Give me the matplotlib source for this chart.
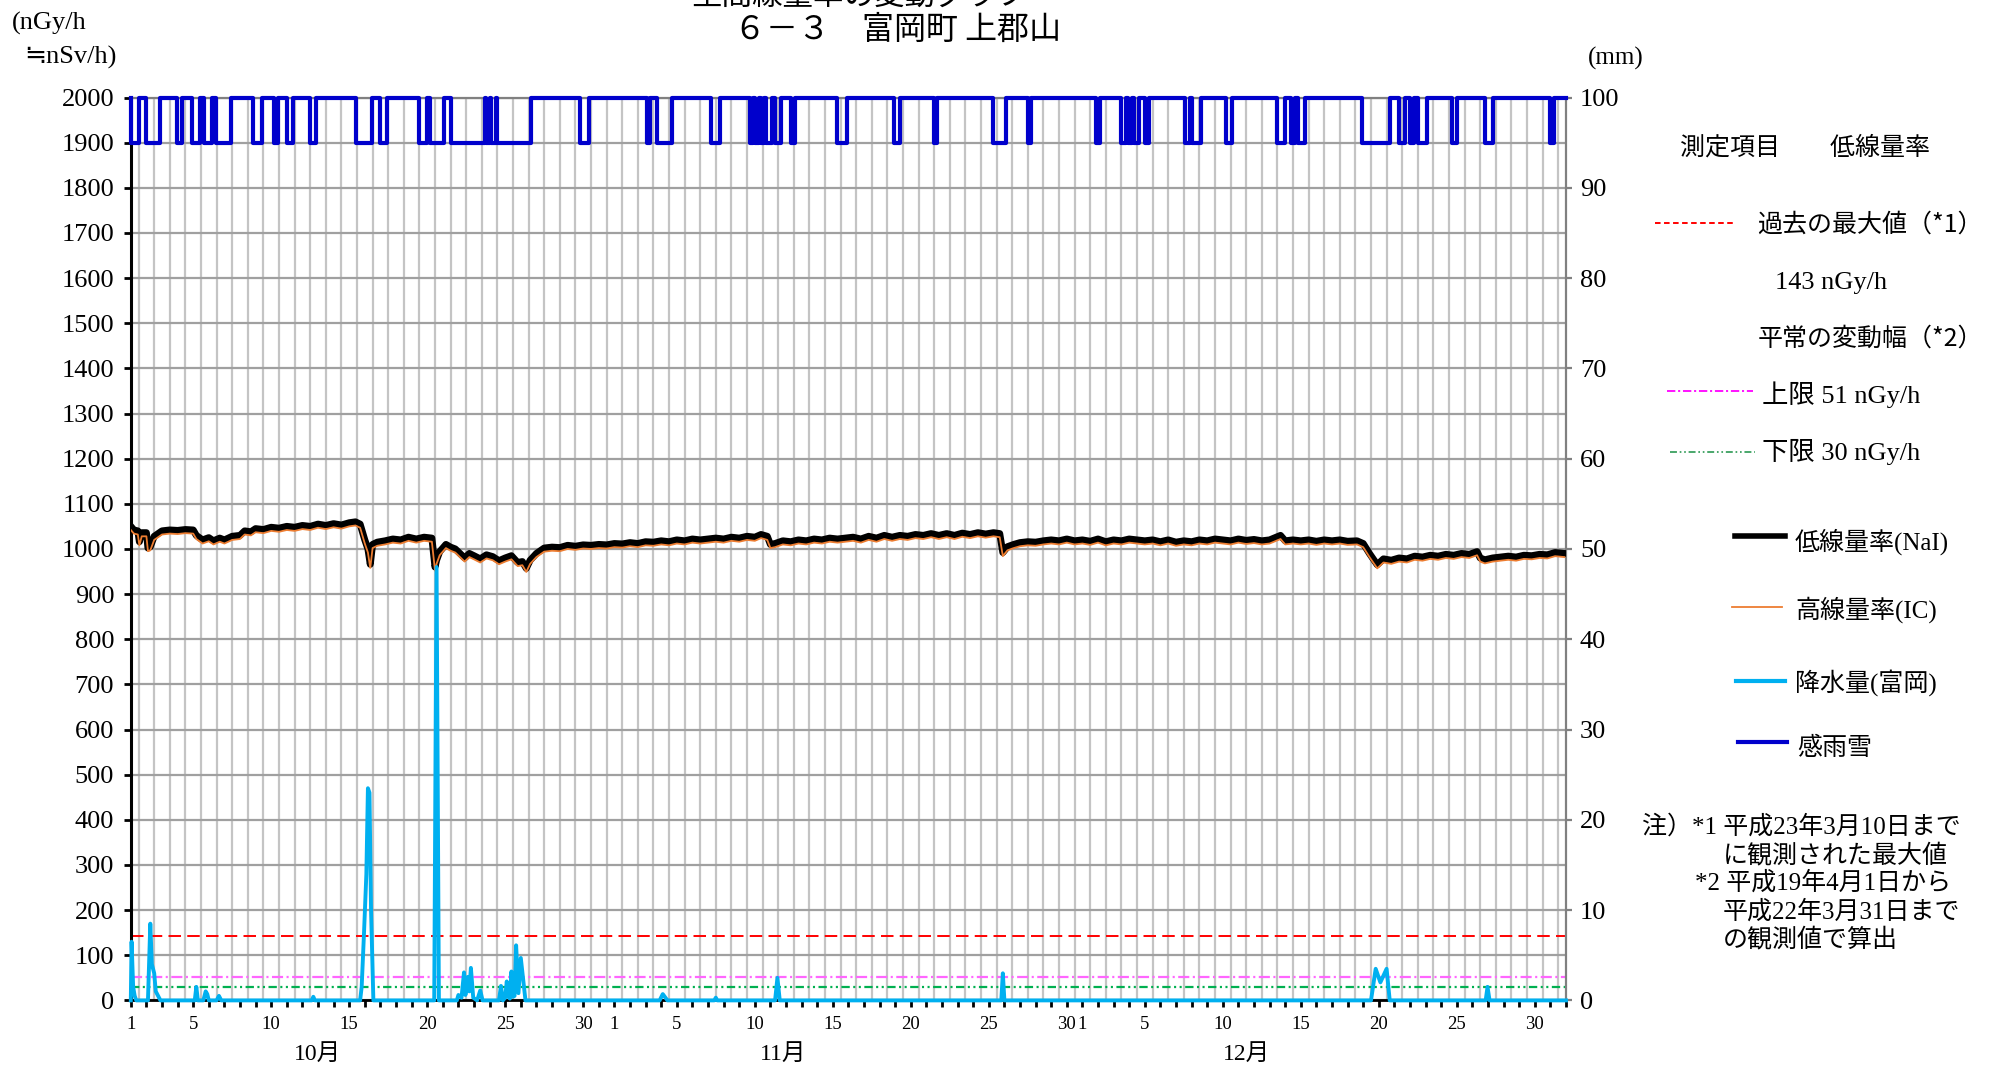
import matplotlib
matplotlib.use('Agg')
import matplotlib.pyplot as plt
import numpy as np
from matplotlib.lines import Line2D
from matplotlib.transforms import blended_transform_factory

plt.rcParams['lines.scale_dashes'] = False
SERIF = ['Liberation Serif', 'Noto Sans CJK JP', 'DejaVu Sans']
JP = ['Noto Sans CJK JP', 'DejaVu Sans']
plt.rcParams['font.family'] = SERIF

# ---------------- data ----------------
months = ['10月', '11月', '12月']
month_days = [31, 30, 31]
day_labels = [1, 5, 10, 15, 20, 25, 30]
month_label_pos = [12.0, 41.8, 71.5]

# time in days from Oct 1 00:00
dose_t = [0.0, 0.2, 0.45, 0.55, 0.7, 1.0, 1.1, 1.25, 1.5, 2.0, 2.5, 3.0, 3.5, 4.0, 4.2, 4.6, 5.0, 5.3, 5.7, 6.0, 6.5,
          7.0, 7.3, 7.7, 8.0, 8.5, 9.0, 9.5, 10.0, 10.5, 11.0, 11.5, 12.0, 12.5, 13.0, 13.5, 14.0, 14.4, 14.7, 15.0, 15.2, 15.35, 15.5, 15.8,
          16.3, 16.8, 17.3, 17.8, 18.3, 18.8, 19.3, 19.5, 19.6, 19.8, 20.2, 20.5, 20.8, 21.1, 21.4, 21.7, 22.0, 22.4, 22.8, 23.2, 23.6, 24.0, 24.4, 24.8, 25.1, 25.35, 25.6, 26.0, 26.5,
          27.0, 27.5, 28.0, 28.5, 29.0, 29.5, 30.0, 30.5, 31.0, 31.5, 32.0, 32.5, 33.0, 33.5, 34.0, 34.5, 35.0, 35.5, 36.0, 36.5, 37.0, 37.5, 38.0, 38.5, 39.0, 39.5, 40.0,
          40.4, 40.8, 41.0, 41.3, 41.8, 42.3, 42.8, 43.3, 43.8, 44.3, 44.8, 45.3, 45.8, 46.3, 46.8, 47.3, 47.8, 48.3, 48.8, 49.3, 49.8, 50.3, 50.8, 51.3, 51.8, 52.3, 52.8, 53.3, 53.8, 54.3, 54.8, 55.3, 55.7, 55.9, 56.2, 56.6,
          57.0, 57.5, 58.0, 58.5, 59.0, 59.5, 60.0, 60.5, 61.0, 61.5, 62.0, 62.5, 63.0, 63.5, 64.0, 64.5, 65.0, 65.5, 66.0, 66.5, 67.0, 67.5, 68.0, 68.5, 69.0, 69.5, 70.0, 70.5, 71.0, 71.5, 72.0, 72.5, 73.0, 73.7, 74.0, 74.5, 75.0, 75.5, 76.0, 76.5, 77.0, 77.5, 78.0, 78.6,
          79.0, 79.4, 79.9, 80.3, 80.8, 81.3, 81.8, 82.3, 82.8, 83.3, 83.8, 84.3, 84.8, 85.3, 85.8, 86.3, 86.5, 86.8, 87.3, 87.8, 88.3, 88.8, 89.3, 89.8, 90.3, 90.8, 91.3, 91.9]

nai = [1050, 1042, 1040, 1016, 1036, 1036, 1002, 1005, 1028, 1040, 1042, 1041, 1043, 1042, 1030, 1020, 1025, 1018, 1024, 1020, 1028,
       1030, 1040, 1038, 1045, 1043, 1048, 1046, 1050, 1048, 1052, 1050, 1055, 1052, 1056, 1053, 1058, 1060, 1055, 1020, 1000, 966, 1010, 1015,
       1018, 1022, 1020, 1026, 1022, 1026, 1024, 960, 975, 994, 1010, 1004, 1000, 990, 980, 990, 985, 978, 987, 983, 974, 980, 985, 970, 972, 957, 975, 990, 1002,
       1004, 1003, 1008, 1006, 1009, 1008, 1010, 1009, 1012, 1011, 1014, 1012, 1016, 1015, 1018, 1016, 1020, 1018, 1022, 1020, 1022, 1024, 1022, 1026, 1024, 1028, 1026,
       1032, 1028, 1010, 1012, 1018, 1016, 1020, 1018, 1022, 1020, 1024, 1022, 1024, 1026, 1022, 1028, 1024, 1030, 1026, 1030, 1028, 1032, 1030, 1034, 1030, 1034, 1030, 1035, 1032, 1036, 1033, 1036, 1034, 992, 1005, 1010,
       1014, 1016, 1015, 1018, 1020, 1018, 1022, 1018, 1020, 1017, 1022, 1016, 1020, 1018, 1022, 1020, 1018, 1020, 1016, 1020, 1015, 1018, 1016, 1020, 1018, 1022, 1020, 1018, 1022, 1019, 1021, 1018, 1020, 1030, 1018, 1020, 1018, 1020, 1017, 1020, 1018, 1020, 1017, 1018,
       1012, 990, 965, 978, 975, 980, 978, 984, 982, 986, 984, 988, 986, 990, 988, 994, 980, 976, 980, 982, 984, 982, 986, 985, 988, 987, 992, 990]

ic = [1042, 1034, 1032, 1008, 1028, 1028, 995, 997, 1020, 1032, 1034, 1033, 1035, 1034, 1022, 1012, 1017, 1010, 1016, 1012, 1020,
      1022, 1032, 1030, 1037, 1035, 1040, 1038, 1042, 1040, 1044, 1042, 1047, 1044, 1048, 1045, 1050, 1052, 1047, 1012, 992, 958, 1002, 1007,
      1010, 1014, 1012, 1018, 1014, 1018, 1016, 952, 967, 986, 1002, 996, 992, 982, 972, 982, 977, 970, 979, 975, 966, 972, 977, 962, 964, 949, 967, 982, 994,
      996, 995, 1000, 998, 1001, 1000, 1002, 1001, 1004, 1003, 1006, 1004, 1008, 1007, 1010, 1008, 1012, 1010, 1014, 1012, 1014, 1016, 1014, 1018, 1016, 1020, 1018,
      1024, 1020, 1002, 1004, 1010, 1008, 1012, 1010, 1014, 1012, 1016, 1014, 1016, 1018, 1014, 1020, 1016, 1022, 1018, 1022, 1020, 1024, 1022, 1026, 1022, 1026, 1022, 1027, 1024, 1028, 1025, 1028, 1026, 984, 997, 1002,
      1006, 1008, 1007, 1010, 1012, 1010, 1014, 1010, 1012, 1009, 1014, 1008, 1012, 1010, 1014, 1012, 1010, 1012, 1008, 1012, 1007, 1010, 1008, 1012, 1010, 1014, 1012, 1010, 1014, 1011, 1013, 1010, 1012, 1022, 1010, 1012, 1010, 1012, 1009, 1012, 1010, 1012, 1009, 1010,
      1004, 982, 957, 970, 967, 972, 970, 976, 974, 978, 976, 980, 978, 982, 980, 986, 972, 968, 972, 974, 976, 974, 978, 977, 980, 979, 984, 982]

precip_t = [0.0, 0.05, 0.15, 0.25, 0.35,
            1.1, 1.25, 1.35, 1.5, 1.6, 1.75, 1.9,
            4.1, 4.2, 4.3, 4.65, 4.8, 4.9, 5.0, 5.5, 5.65, 5.8,
            11.6, 11.7, 11.8,
            14.7, 14.8, 14.95, 15.1, 15.2, 15.3, 15.4, 15.55,
            19.45, 19.6, 19.75,
            20.9, 21.0, 21.2, 21.36, 21.45, 21.6, 21.7, 21.8, 21.95, 22.2, 22.4, 22.55,
            23.6, 23.73, 23.85, 24.0, 24.1, 24.2, 24.3, 24.4, 24.5, 24.6, 24.7, 24.85, 25.0, 25.3,
            33.9, 34.1, 34.4, 37.4, 37.5, 37.6, 41.3, 41.45, 41.6, 55.8, 55.9, 56.0,
            79.5, 79.8, 80.1, 80.5, 80.7, 86.85, 86.97, 87.1, 92.0]
precip_mm = [0, 6.5, 1.5, 0.5, 0,
             0, 8.5, 4, 3, 1, 0.5, 0,
             0, 1.5, 0, 0, 1.0, 0.7, 0, 0, 0.5, 0,
             0, 0.4, 0,
             0, 1.5, 7.5, 14, 23.5, 23, 10, 0,
             0, 48, 0,
             0, 0.6, 0.3, 3.1, 0.6, 2.6, 1.0, 3.6, 0.3, 0, 1.1, 0,
             0, 1.6, 0, 0.3, 2.1, 0.4, 0.2, 3.2, 0.4, 0.5, 6.1, 0.8, 4.7, 0,
             0, 0.7, 0, 0, 0.3, 0, 0, 2.5, 0, 0, 3.0, 0,
             0, 3.5, 2.0, 3.5, 0, 0, 1.5, 0, 0]

# rain/snow sensor: intervals (days) where the sensor is off (plotted at 95 mm level)
rain_off_start = [0.0, 0.95, 2.95, 3.95, 4.7, 5.45, 7.85, 9.15, 10.0, 11.5, 14.45, 16.0, 18.5, 19.15, 20.5, 22.75, 23.1, 23.5,
                  28.8, 33.1, 33.75, 37.2, 39.7, 40.0, 40.4, 40.7, 41.3, 42.35, 45.3, 48.9, 51.5, 55.3, 57.5, 61.9,
                  63.5, 63.9, 64.3, 65.0, 67.6, 68.0, 70.2, 73.5, 74.4, 74.8, 78.9, 81.3, 82.0, 82.5, 84.7, 86.8, 90.95]
rain_off_end = [0.5, 1.9, 3.3, 4.45, 5.2, 6.45, 8.4, 9.45, 10.4, 11.85, 15.45, 16.45, 19.0, 20.1, 22.7, 23.0, 23.4, 25.65,
                29.4, 33.3, 34.7, 37.8, 39.9, 40.3, 40.6, 41.1, 41.7, 42.6, 45.9, 49.3, 51.7, 56.1, 57.7, 62.1,
                63.8, 64.2, 64.6, 65.3, 67.9, 68.6, 70.6, 74.0, 74.6, 75.3, 80.7, 81.7, 82.25, 83.1, 85.0, 87.3, 91.2]
rain_on_level = 100
rain_off_level = 95

past_max = 143
normal_upper = 51
normal_lower = 30

# ---------------- figure ----------------
W, H = 2011, 1072
fig = plt.figure(figsize=(W / 100, H / 100), dpi=100)
fig.patch.set_facecolor('white')

L, R, T, B = 130.8, 1566, 97.5, 1000.4
ax = fig.add_axes([L / W, 1 - B / H, (R - L) / W, (B - T) / H])
ax.set_xlim(0, sum(month_days))
ax.set_ylim(0, 2000)

ax.set_yticks(np.arange(0, 2001, 100))
ax.set_yticklabels([str(v) for v in range(0, 2001, 100)], fontsize=19)
ax.set_axisbelow(True)
ax.yaxis.grid(True, color='#A0A0A0', lw=1.6)
ax.set_xticks(np.arange(0, sum(month_days) + 0.01, 0.5), minor=True)
ax.xaxis.grid(True, which='minor', color='#C4C4C4', lw=1.6)
ax.tick_params(axis='x', which='minor', length=0)

xt = list(range(0, sum(month_days) + 1))
xl = [''] * len(xt)
off = 0
for nd in month_days:
    for d in day_labels:
        if d <= nd:
            xl[off + d - 1] = str(d)
    off += nd
ax.set_xticks(xt)
ax.set_xticklabels(xl, fontsize=13.5)
ax.tick_params(axis='x', which='major', direction='out', length=5, width=2, color='black', pad=6)
ax.tick_params(axis='y', direction='out', length=5, width=2, color='black', pad=7)

for s in ['top', 'right']:
    ax.spines[s].set_color('#808080')
    ax.spines[s].set_linewidth(1.6)
ax.spines['left'].set_color('black')
ax.spines['left'].set_linewidth(2.2)
ax.spines['bottom'].set_color('black')
ax.spines['bottom'].set_linewidth(2)

# reference lines
ax.axhline(past_max, color='#FF0000', lw=1.4, dashes=(9, 4.5))
ax.axhline(normal_upper, color='#FF66FF', lw=1.6, dashes=(8, 2.5, 1.5, 2.5))
ax.axhline(normal_lower, color='#00B050', lw=1.6, dashes=(6, 2.5, 1.5, 2.5, 1.5, 2.5))

# dose rate lines
ax.plot(dose_t, nai, color='black', lw=5.0, solid_joinstyle='round', zorder=5)
ax.plot(dose_t, ic, color='#ED7D31', lw=1.3, zorder=6)

# month labels
trans = blended_transform_factory(ax.transData, fig.transFigure)
for m, xp in zip(months, month_label_pos):
    ax.text(xp, 1 - 1054 / H, m, transform=trans, ha='center', va='center', fontsize=17, family=SERIF)

# secondary axis (mm)
ax2 = ax.twinx()
ax2.set_ylim(0, 100)
ax2.set_yticks(np.arange(0, 101, 10))
ax2.set_yticklabels([str(v) for v in range(0, 101, 10)], fontsize=19)
ax2.tick_params(axis='y', direction='out', length=4, width=1.6, color='#808080', pad=6)
for s in ax2.spines.values():
    s.set_visible(False)

ax2.plot(precip_t, precip_mm, color='#00B0F0', lw=2.8, solid_joinstyle='round', clip_on=False, zorder=7)

rx = [0.0]
ry = [rain_on_level]
for s, e in zip(rain_off_start, rain_off_end):
    rx += [s, s, e, e]
    ry += [rain_on_level, rain_off_level, rain_off_level, rain_on_level]
rx.append(sum(month_days))
ry.append(rain_on_level)
ax2.plot(rx, ry, color='#0000CC', lw=3.0, clip_on=False, zorder=8)

# ---------------- overlay texts / legend ----------------
ov = fig.add_axes([0, 0, 1, 1], zorder=10)
ov.set_xlim(0, W)
ov.set_ylim(H, 0)
ov.axis('off')
ov.patch.set_visible(False)

ov.text(859, 5, '空間線量率の変動グラフ', ha='center', va='baseline', fontsize=22, family=JP)
ov.text(898, 30, '６－３　富岡町 上郡山', ha='center', va='center', fontsize=23, family=JP)
ov.text(12, 23, '(nGy/h', ha='left', va='center', fontsize=19, family=SERIF)
ov.text(24, 57, '≒nSv/h)', ha='left', va='center', fontsize=19,
        family=['Liberation Serif', 'DejaVu Sans', 'Noto Sans CJK JP'])
ov.text(1588, 58, '(mm)', ha='left', va='center', fontsize=18, family=SERIF)

fs = 18
ov.text(1680, 148, '測定項目　　低線量率', ha='left', va='center', fontsize=fs, family=JP)
ov.add_line(Line2D([1655, 1735], [223, 223], color='#FF0000', lw=1.4, dashes=(4, 2.5)))
ov.text(1757, 225, '過去の最大値（*1）', ha='left', va='center', fontsize=fs, family=JP)
ov.text(1775, 283, '143 nGy/h', ha='left', va='center', fontsize=fs + 1, family=SERIF)
ov.text(1758, 339, '平常の変動幅（*2）', ha='left', va='center', fontsize=fs, family=JP)
ov.add_line(Line2D([1667, 1753], [391, 391], color='#FF00FF', lw=1.3, dashes=(6, 2, 1.5, 2)))
ov.text(1762, 395, '上限 51 nGy/h', ha='left', va='center', fontsize=fs + 1, family=SERIF)
ov.add_line(Line2D([1670, 1755], [452, 452], color='#3CA060', lw=1.3, dashes=(5, 2, 1.2, 2, 1.2, 2)))
ov.text(1762, 452, '下限 30 nGy/h', ha='left', va='center', fontsize=fs + 1, family=SERIF)

ov.add_line(Line2D([1735, 1785], [536, 536], color='black', lw=4.0))
ov.text(1795, 542, '低線量率(NaI)', ha='left', va='center', fontsize=fs, family=SERIF)
ov.add_line(Line2D([1732, 1782], [607, 607], color='#ED7D31', lw=1.3))
ov.text(1795, 610, '高線量率(IC)', ha='left', va='center', fontsize=fs, family=SERIF)
ov.add_line(Line2D([1736, 1785], [681, 681], color='#00B0F0', lw=3.0))
ov.text(1795, 683, '降水量(富岡)', ha='left', va='center', fontsize=fs, family=SERIF)
ov.add_line(Line2D([1738, 1787], [742, 742], color='#0000CC', lw=3.0))
ov.text(1797, 748, '感雨雪', ha='left', va='center', fontsize=fs, family=JP)

ov.text(1642, 827, '注）*1 平成23年3月10日まで', ha='left', va='center', fontsize=fs, family=SERIF)
ov.text(1723, 856, 'に観測された最大値', ha='left', va='center', fontsize=fs, family=JP)
ov.text(1695, 883, '*2 平成19年4月1日から', ha='left', va='center', fontsize=fs, family=SERIF)
ov.text(1723, 912, '平成22年3月31日まで', ha='left', va='center', fontsize=fs, family=SERIF)
ov.text(1723, 940, 'の観測値で算出', ha='left', va='center', fontsize=fs, family=JP)

fig.savefig('out.png', dpi=100)
